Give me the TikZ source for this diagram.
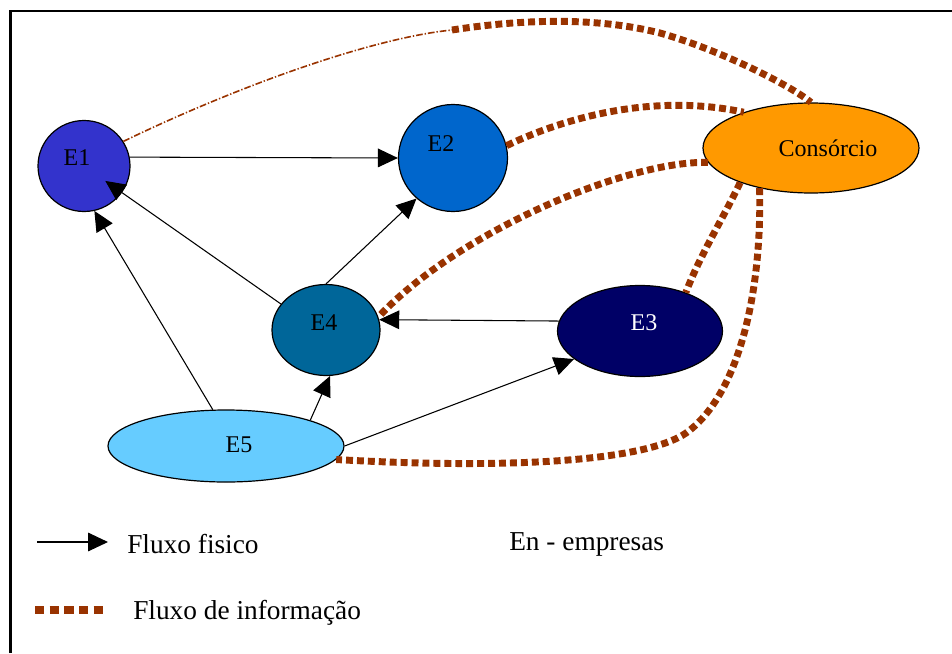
\documentclass[tikz,border=0pt]{standalone}
\usepackage{fontspec}
\setmainfont{Liberation Serif}
\usetikzlibrary{arrows.meta,shapes.geometric}
\definecolor{infobrown}{HTML}{993300}
\definecolor{cE1}{HTML}{3333CC}
\definecolor{cE2}{HTML}{0066CC}
\definecolor{cE3}{HTML}{000066}
\definecolor{cE4}{HTML}{006699}
\definecolor{cE5}{HTML}{66CCFF}
\definecolor{cCons}{HTML}{FF9900}
\begin{document}
\begin{tikzpicture}[x=0.75pt,y=-0.75pt,
  ent/.style={draw=black, line width=0.9pt, ellipse, inner sep=0pt},
  etext/.style={font=\fontsize{18}{20}\selectfont, inner sep=0pt},
  legtext/.style={font=\fontsize{20.5}{24}\selectfont, anchor=west, inner sep=0pt},
  phys/.style={line width=0.8pt, -{Triangle[length=15pt,width=14pt]}},
  info/.style={draw=infobrown, line width=5.2pt, dash pattern=on 5.2pt off 3pt},
  infothin/.style={draw=infobrown, line width=1.2pt, dash pattern=on 5pt off 1.5pt on 1pt off 1.5pt},
  legdots/.style={draw=infobrown, line width=6pt, dash pattern=on 7.1pt off 3.9pt},
]
\useasboundingbox (0,0) rectangle (952,653);

% outer frame (left and top edges)
\coordinate (fbl) at (10.5,653);
\coordinate (ftl) at (10.5,11);
\coordinate (ftr) at (952,11);
\draw[line width=2pt] (fbl) -- (ftl) -- (ftr);

% companies and consortium
\node[ent, fill=cE1, minimum width=69pt, minimum height=68.25pt] (e1) at (84,166) {};
\node[ent, fill=cE2, minimum width=81.75pt, minimum height=80.25pt] (e2) at (453,158) {};
\node[ent, fill=cCons, minimum width=162pt, minimum height=67.5pt] (cons) at (811,148) {};
\node[ent, fill=cE4, minimum width=81pt, minimum height=68.25pt] (e4) at (326,330) {};
\node[ent, fill=cE5, minimum width=177pt, minimum height=54pt] (e5) at (226,446) {};
\node[ent, fill=cE3, minimum width=123.75pt, minimum height=68.25pt] (e3) at (640,331) {};

\node[etext] (e1l) at (77,158) {E1};
\node[etext] (e2l) at (441,144) {E2};
\node[etext] (consl) at (828,148) {Consórcio};
\node[etext] (e4l) at (324,323) {E4};
\node[etext] (e5l) at (239,445) {E5};
\node[etext, text=white] (e3l) at (644,323) {E3};

% information flows
\coordinate (tmid) at (452,30);
\draw[infothin] (e1.32) .. controls (238,86) and (372,38) .. (tmid);
\draw[info] (tmid) .. controls (530,18) and (600,18) .. (660,33)
  .. controls (720,50) and (790,85) .. (cons.north);
\draw[info] (e2.13) .. controls (560,120) and (650,92) .. (cons.152);
\draw[info] (cons.188) .. controls (630,160) and (460,230) .. (e4.14);
\draw[info] (cons.206) .. controls (725,215) and (700,255) .. (e3.40);
\draw[info] (cons.218) .. controls (762,290) and (740,390) .. (690,430)
  .. controls (655,460) and (520,470) .. (e5.-7);

% physical flows
\draw[phys] (e1.11) -- (e2.180);
\draw[phys, shorten >=19.5pt] (e4.150) -- (e1.center);
\draw[phys] (e4.north) -- (e2.228);
\draw[phys] (e5.110) -- (e1.283);
\draw[phys] (e5.17) -- (e4.-85);
\draw[phys] (e5.east) -- (e3.203);
\draw[phys] (e3.173) -- (e4.11);

% legend
\coordinate (la1) at (37,542);
\coordinate (la2) at (108,542);
\draw[phys] (la1) -- (la2);
\node[legtext] (lphys) at (127,544) {Fluxo fisico};
\node[legtext] (lemp) at (509,544) {En - empresas};
\coordinate (ld1) at (35,610);
\coordinate (ld2) at (104,610);
\draw[legdots] (ld1) -- (ld2);
\node[legtext] (linfo) at (133,613) {Fluxo de informação};
\end{tikzpicture}
\end{document}
